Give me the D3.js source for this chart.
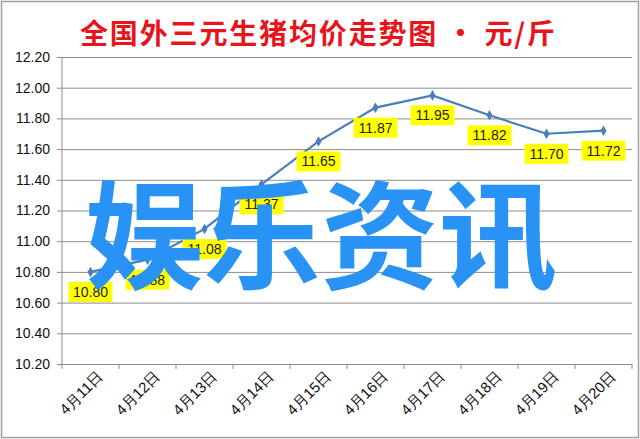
<!DOCTYPE html>
<html>
<head>
<meta charset="utf-8">
<script src="https://cdn.jsdelivr.net/npm/d3@7"></script>
<style>
  body { margin: 0; background: #fff; }
  svg { display: block; }
</style>
</head>
<body>
<div id="chart"></div>
<script>
// chart data
var dates = ["4月11日", "4月12日", "4月13日", "4月14日", "4月15日",
             "4月16日", "4月17日", "4月18日", "4月19日", "4月20日"];
var prices = [10.80, 10.88, 11.08, 11.37, 11.65, 11.87, 11.95, 11.82, 11.70, 11.72];
var yTicks = [10.20, 10.40, 10.60, 10.80, 11.00, 11.20, 11.40, 11.60, 11.80, 12.00, 12.20];

var W = 640, H = 439;
var margin = { top: 57, right: 8, bottom: 75, left: 62 };
var width = W - margin.left - margin.right,
    height = H - margin.top - margin.bottom;

var svg = d3.select("#chart").append("svg")
  .attr("width", W)
  .attr("height", H);

// outer frame
svg.append("rect")
  .attr("x", 1.5).attr("y", 1.5)
  .attr("width", W - 3).attr("height", H - 3)
  .attr("fill", "#fff")
  .attr("stroke", "#a0a0a0")
  .attr("stroke-width", 1.5);

// title
svg.append("text")
  .attr("x", 80)
  .attr("y", 44)
  .attr("textLength", 475)
  .attr("lengthAdjust", "spacing")
  .attr("fill", "#e8141c")
  .style("font-family", "'Noto Sans CJK SC', sans-serif")
  .style("font-size", "28px")
  .style("font-weight", "bold")
  .text("全国外三元生猪均价走势图 · 元/斤");

var g = svg.append("g")
  .attr("transform", "translate(" + margin.left + "," + margin.top + ")");

var x = d3.scaleBand().domain(dates).range([0, width]);
var y = d3.scaleLinear().domain([10.2, 12.2]).range([height, 0]);

// y grid + axis
var yAxis = g.append("g")
  .call(d3.axisLeft(y).tickValues(yTicks).tickSize(-width).tickPadding(12)
    .tickFormat(d3.format(".2f")));
yAxis.select(".domain").remove();
yAxis.selectAll(".tick line")
  .attr("x1", -5)
  .attr("stroke", "#8c8c8c");
yAxis.selectAll(".tick text")
  .attr("fill", "#111")
  .style("font-family", "'Liberation Sans', Arial, sans-serif")
  .style("font-size", "14px");

// left axis line
g.append("line")
  .attr("x1", 0).attr("x2", 0)
  .attr("y1", 0).attr("y2", height)
  .attr("stroke", "#8c8c8c");

// x axis
var xAxis = g.append("g")
  .attr("transform", "translate(0," + height + ")")
  .call(d3.axisBottom(x).tickSize(0).tickPadding(6));
xAxis.select(".domain").attr("stroke", "#8c8c8c");
xAxis.selectAll(".tick text")
  .attr("fill", "#111")
  .style("font-family", "'Liberation Sans', Arial, sans-serif")
  .style("font-size", "15px")
  .attr("text-anchor", "end")
  .attr("dy", "0.3em")
  .attr("transform", "translate(6,6) rotate(-45)");

// tick marks between categories
g.append("g").selectAll("line")
  .data(d3.range(dates.length + 1))
  .enter().append("line")
  .attr("x1", function (i) { return i * x.step(); })
  .attr("x2", function (i) { return i * x.step(); })
  .attr("y1", height)
  .attr("y2", height + 5)
  .attr("stroke", "#8c8c8c");

// the price line
var cx = function (d, i) { return x(dates[i]) + x.bandwidth() / 2; };
var line = d3.line()
  .x(function (d, i) { return cx(d, i); })
  .y(function (d) { return y(d); });

g.append("path")
  .datum(prices)
  .attr("fill", "none")
  .attr("stroke", "#4a7ebb")
  .attr("stroke-width", 2.2)
  .attr("d", line);

g.selectAll(".marker")
  .data(prices)
  .enter().append("path")
  .attr("class", "marker")
  .attr("d", d3.symbol().type(d3.symbolDiamond).size(32))
  .attr("fill", "#4a7ebb")
  .attr("transform", function (d, i) {
    return "translate(" + cx(d, i) + "," + y(d) + ")";
  });

// data labels
var labels = g.selectAll(".lab")
  .data(prices)
  .enter().append("g")
  .attr("class", "lab")
  .attr("transform", function (d, i) {
    return "translate(" + cx(d, i) + "," + (y(d) + 20) + ")";
  });
labels.append("rect")
  .attr("x", -22).attr("y", -10)
  .attr("width", 44).attr("height", 20)
  .attr("fill", "#ffff00");
labels.append("text")
  .attr("text-anchor", "middle")
  .attr("dy", "0.36em")
  .attr("fill", "#222")
  .style("font-family", "'Liberation Sans', Arial, sans-serif")
  .style("font-size", "14px")
  .text(function (d) { return d.toFixed(2); });

// watermark overlay
svg.append("text")
  .attr("x", 321)
  .attr("y", 280)
  .attr("text-anchor", "middle")
  .attr("fill", "#2892f5")
  .style("font-family", "'Noto Sans CJK SC', sans-serif")
  .style("font-size", "118px")
  .style("font-weight", "bold")
  .text("娱乐资讯");
</script>
</body>
</html>
